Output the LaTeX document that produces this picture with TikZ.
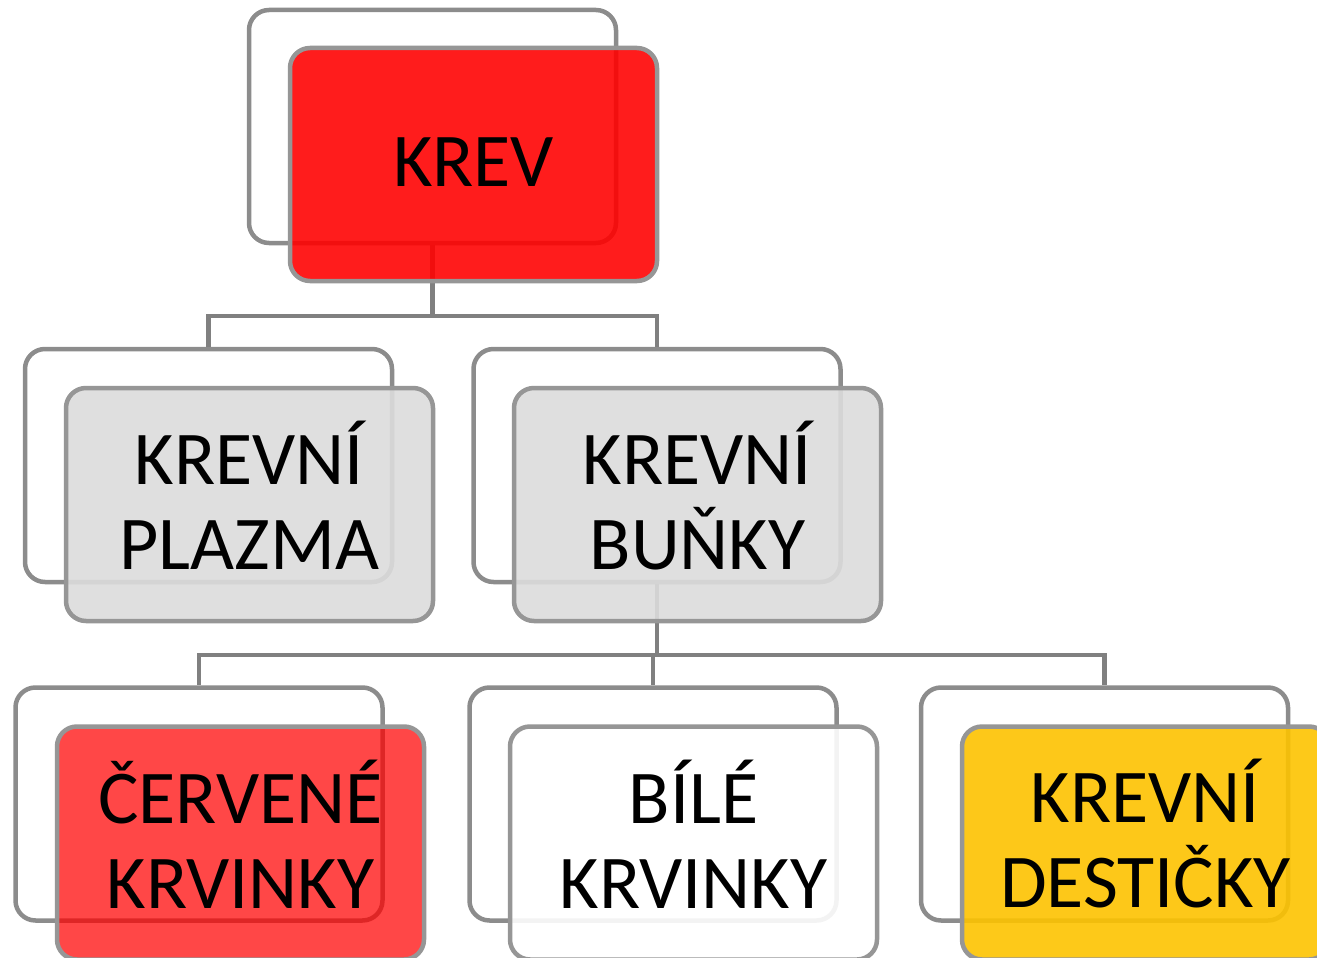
\documentclass[tikz,border=0pt]{standalone}
\usepackage{fontspec}
\setmainfont{Carlito}
\definecolor{backline}{RGB}{140,140,140}
\definecolor{frontline}{RGB}{150,150,150}
\definecolor{conline}{RGB}{128,128,128}
\definecolor{krevred}{RGB}{255,0,0}
\definecolor{grayfill}{RGB}{220,220,220}
\definecolor{yellowfill}{RGB}{253,195,0}
\tikzset{
  backbox/.style={draw=backline, line width=4.5pt, fill=white, rectangle, rounded corners=20pt,
    minimum width=367pt, minimum height=233pt, inner sep=0pt},
  frontbox/.style={draw=frontline, line width=4.5pt, rectangle, rounded corners=20pt,
    minimum width=367pt, minimum height=233pt, inner sep=0pt},
  boxtext/.style={align=center, text=black, inner sep=0pt,
    font=\fontsize{76}{85}\selectfont},
  con/.style={draw=conline, line width=4.5pt},
}
\begin{document}
\begin{tikzpicture}[x=1pt,y=-1pt]
\useasboundingbox (0,0) rectangle (1317,958);
\clip (0,0) rectangle (1317,958);
% back boxes
\node[backbox] (bk) at (432.5,126.5) {};
\node[backbox] (bp) at (208.5,465.5) {};
\node[backbox] (bb) at (657,465.5) {};
\node[backbox] (bc) at (199,804) {};
\node[backbox] (bw) at (653,804) {};
\node[backbox] (bd) at (1104.5,804) {};
% connector levels
\coordinate (m1) at (0,316);
\coordinate (m2) at (0,655);
\draw[con] (bk.south) -- (bk.south |- m1) -| (bp.north);
\draw[con] (bk.south |- m1) -| (bb.north);
\draw[con] (bb.south) -- (bb.south |- m2) -| (bc.north);
\draw[con] (bb.south |- m2) -| (bw.north);
\draw[con] (bb.south |- m2) -| (bd.north);
% front boxes
\node[frontbox, fill=krevred, fill opacity=0.89] (fk) at (473.5,164.5) {};
\node[frontbox, fill=grayfill, fill opacity=0.9] (fp) at (249.5,504.5) {};
\node[frontbox, fill=grayfill, fill opacity=0.9] (fb) at (697.5,504.5) {};
\node[frontbox, fill=krevred, fill opacity=0.72] (fc) at (240.5,843) {};
\node[frontbox, fill=white, fill opacity=0.9] (fw) at (693.5,843) {};
\node[frontbox, fill=yellowfill, fill opacity=0.9] (fd) at (1145.5,843) {};
% texts
\node[boxtext, yshift=2pt] (tk) at (fk.center) {KREV};
\node[boxtext, yshift=9pt] (tp) at (fp.center) {KREVNÍ\\PLAZMA};
\node[boxtext, yshift=9pt] (tb) at (fb.center) {KREVNÍ\\BUŇKY};
\node[boxtext, yshift=9pt] (tc) at (fc.center) {ČERVENÉ\\KRVINKY};
\node[boxtext, yshift=9pt] (tw) at (fw.center) {BÍLÉ\\KRVINKY};
\node[boxtext, yshift=9pt] (td) at (fd.center) {KREVNÍ\\DESTIČKY};
\end{tikzpicture}
\end{document}
